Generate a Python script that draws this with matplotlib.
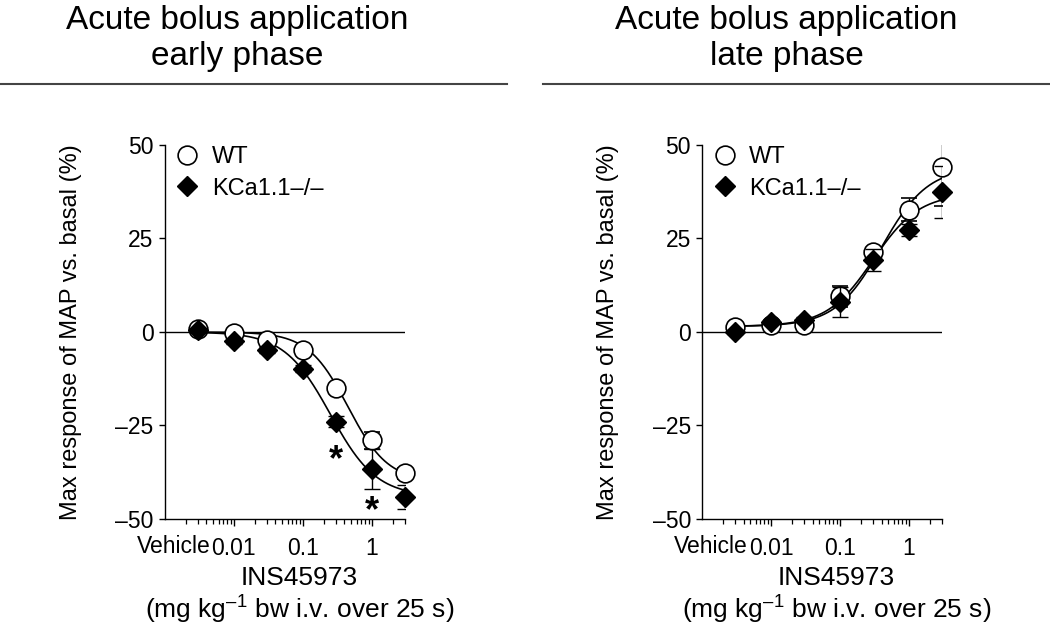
import numpy as np
import matplotlib
matplotlib.use("Agg")
import matplotlib.pyplot as plt
from matplotlib.lines import Line2D
from matplotlib.ticker import LogLocator, NullFormatter

plt.rcParams['font.family'] = ['Liberation Sans', 'DejaVu Sans']
plt.rcParams['mathtext.fontset'] = 'custom'
plt.rcParams['mathtext.rm'] = 'Liberation Sans'

# doses (mg/kg); vehicle is drawn at 0.003
doses = [0.003, 0.01, 0.03, 0.1, 0.3, 1, 3]

# early phase
early_wt = [0.9, -0.3, -2.2, -4.9, -14.9, -29.0, -37.8]
early_wt_err = [0.6, 0.5, 0.6, 0.8, 1.0, 2.2, 1.5]
early_ko = [0.4, -2.5, -4.7, -9.8, -24.0, -36.7, -44.1]
early_ko_err = [0.6, 0.6, 0.8, 1.0, 1.5, 5.4, 3.1]

# late phase
late_wt = [1.3, 2.0, 2.0, 9.5, 21.5, 32.7, 44.2]
late_wt_err = [0.5, 0.6, 0.6, 2.7, 1.0, 3.0, 10.5]
late_ko = [0.0, 2.7, 3.3, 8.0, 19.3, 27.3, 37.5]
late_ko_err = [0.5, 0.6, 0.6, 4.1, 3.0, 1.5, 7.0]

# Hill fit parameters: bottom, top, EC50, slope
early_wt_fit = (0.0, -40.0, 0.45, 1.5)
early_ko_fit = (0.0, -44.0, 0.25, 1.3)
late_wt_fit = (1.5, 44.0, 0.40, 1.3)
late_ko_fit = (1.5, 37.0, 0.30, 1.3)

# asterisks (dose, y) in the early phase panel
stars = [(0.3, -34.5), (1, -48.0)]

title_line1 = "Acute bolus application"
title_line2 = ["early phase", "late phase"]


def hill(x, bottom, top, ec50, n):
    return bottom + (top - bottom) * x**n / (x**n + ec50**n)


def draw_panel(ax, wt, wt_err, ko, ko_err, wt_fit, ko_fit):
    ax.set_xscale('log')
    ax.set_xlim(0.001, 3)
    ax.set_ylim(-50, 50)
    ax.axhline(0, color='black', lw=1.0, zorder=1)

    xs = np.logspace(np.log10(doses[0]), np.log10(doses[-1]), 300)
    ax.plot(xs, hill(xs, *wt_fit), color='black', lw=1.2, zorder=2)
    ax.plot(xs, hill(xs, *ko_fit), color='black', lw=1.2, zorder=2)

    e1 = ax.errorbar(doses, wt, yerr=wt_err, fmt='o', ms=13.5, mfc='white', mec='black',
                     mew=1.2, ecolor='black', elinewidth=1.0, capsize=6, zorder=3)
    e2 = ax.errorbar(doses, ko, yerr=ko_err, fmt='D', ms=10.5, mfc='black', mec='black',
                     ecolor='black', elinewidth=1.0, capsize=6, zorder=4)
    e1[0].set_clip_on(False)
    e2[0].set_clip_on(False)

    for s in ['top', 'right']:
        ax.spines[s].set_visible(False)
    ax.spines['left'].set_linewidth(1.0)
    ax.spines['bottom'].set_linewidth(1.0)

    ax.set_yticks([-50, -25, 0, 25, 50])
    ax.set_yticklabels(['\u201350', '\u201325', '0', '25', '50'], fontsize=16.5)
    ax.set_xticks([0.01, 0.1, 1])
    ax.set_xticklabels(['0.01', '0.1', '1'], fontsize=16.5)
    ax.xaxis.set_minor_locator(LogLocator(base=10, subs=np.arange(2, 10)))
    ax.xaxis.set_minor_formatter(NullFormatter())
    ax.tick_params(axis='y', which='major', direction='out', length=4, width=1.0, pad=4)
    ax.tick_params(axis='x', which='major', direction='out', length=5, width=1.0, pad=8)
    ax.tick_params(axis='x', which='minor', direction='out', length=3.5, width=0.9)
    ax.text(0.0046, -0.042, 'Vehicle', transform=ax.get_xaxis_transform(),
            ha='right', va='top', fontsize=16.5)

    ax.set_ylabel('Max response of MAP vs. basal (%)', fontsize=17, labelpad=24)
    ax.set_xlabel('INS45973\n(mg kg$^{\u2013 1}$ bw i.v. over 25 s)', fontsize=19,
                  linespacing=1.1)
    ax.xaxis.set_label_coords(0.56, -0.125)

    handles = [Line2D([], [], ls='none', marker='o', ms=13.5, mfc='white', mec='black', mew=1.2),
               Line2D([], [], ls='none', marker='D', ms=10.5, mfc='black', mec='black')]
    ax.legend(handles, ['WT', 'KCa1.1\u2013/\u2013'], loc='upper left', frameon=False,
              fontsize=17, handletextpad=0.35, borderaxespad=0.0, borderpad=0.0,
              labelspacing=0.4, handlelength=1.4, bbox_to_anchor=(0.025, 0.997))


fig = plt.figure(figsize=(10.5, 6.28), dpi=100)
ax1 = fig.add_axes([0.157, 0.1736, 0.2286, 0.5955])
ax2 = fig.add_axes([0.6686, 0.1736, 0.2286, 0.5955])

draw_panel(ax1, early_wt, early_wt_err, early_ko, early_ko_err, early_wt_fit, early_ko_fit)
draw_panel(ax2, late_wt, late_wt_err, late_ko, late_ko_err, late_wt_fit, late_ko_fit)

for x, y in stars:
    ax1.text(x, y, '*', ha='center', va='center', fontsize=26, fontweight='bold')

for xc, sub in zip([0.2255, 0.749], title_line2):
    fig.text(xc, 0.9538, title_line1, ha='center', va='baseline', fontsize=24)
    fig.text(xc, 0.897, sub, ha='center', va='baseline', fontsize=24)

fig.add_artist(Line2D([0.0, 0.483], [0.867, 0.867], color='#444444', lw=1.5,
                      transform=fig.transFigure))
fig.add_artist(Line2D([0.517, 1.0], [0.867, 0.867], color='#444444', lw=1.5,
                      transform=fig.transFigure))

fig.savefig('out.png', dpi=100)
